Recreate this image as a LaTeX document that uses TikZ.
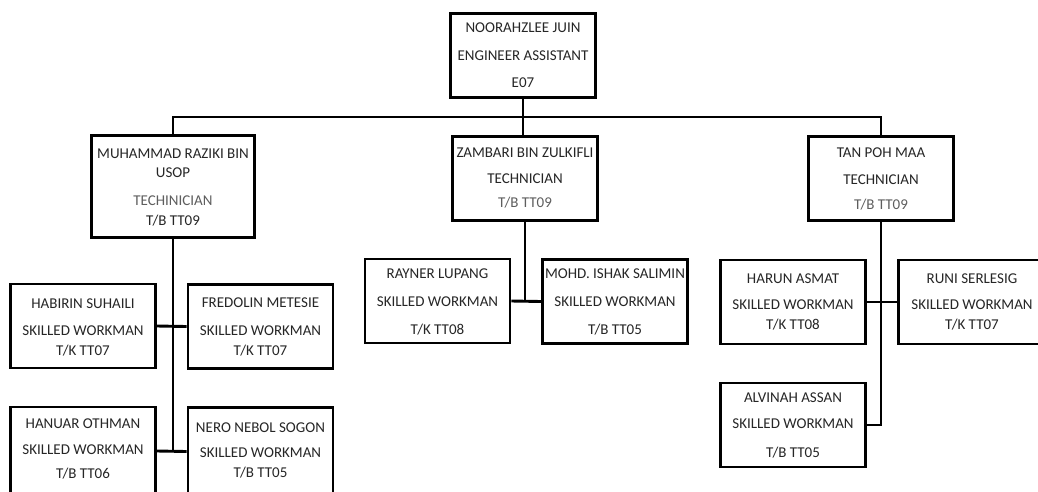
\documentclass[tikz,border=0pt]{standalone}
\usepackage{fontspec}
\setmainfont{Carlito}
\definecolor{ink}{HTML}{262626}
\definecolor{inklight}{HTML}{5E5E5E}
\begin{document}
\begin{tikzpicture}[x=1pt,y=-1pt,
  box/.style={draw=black, line width=2.9pt, inner sep=0pt, fill=white},
  wbox/.style={box, minimum width=145pt, minimum height=84pt},
  wire/.style={line width=2.9pt, draw=black},
  t/.style={anchor=base, inner sep=0pt, font=\fontsize{15}{15}\selectfont, text=ink},
  tl/.style={t, text=inklight}]
\useasboundingbox (0,0) rectangle (1038,491);
\clip (0,0) rectangle (1038,491);
\fill[white] (0,0) rectangle (1038,491);

% boxes
\node[wbox] (top) at (523,55.5) {};
\node[box, minimum width=163pt, minimum height=102pt] (muh) at (173,186.5) {};
\node[wbox] (zam) at (525,178.5) {};
\node[wbox] (tan) at (881,178.5) {};
\node[wbox] (hab) at (83,326) {};
\node[wbox] (fre) at (260.5,326.5) {};
\node[wbox, minimum height=88pt] (han) at (83,451) {};
\node[wbox, minimum height=88pt] (nero) at (260.5,451.5) {};
\node[wbox] (ray) at (437.5,301) {};
\node[wbox] (mohd) at (615,301.5) {};
\node[wbox] (harun) at (793,302) {};
\node[wbox, minimum width=155pt] (runi) at (976,302) {};
\node[wbox] (alv) at (793,425) {};

% connectors
\coordinate (bus) at (0,117);
\draw[wire] (muh.north) -- (muh.north |- bus) -- (tan.north |- bus) -- (tan.north);
\draw[wire] (top.south) -- (top.south |- zam.north);
\draw[wire] (muh.south) -- (muh.south |- han.east);
\draw[wire] (hab.east) -- (fre.west);
\draw[wire] (han.east) -- (nero.west);
\draw[wire] (zam.south) -- (zam.south |- ray.east);
\draw[wire] (ray.east) -- (mohd.west);
\draw[wire] (tan.south) -- (tan.south |- alv.east) -- (alv.east);
\draw[wire] (harun.east) -- (runi.west);

% texts
\node[t] (top1) at (523,32) {NOORAHZLEE JUIN};
\node[t] (top2) at (523,60) {ENGINEER ASSISTANT};
\node[t] (top3) at (523,87) {E07};

\node[t] (muh1) at (173,158) {MUHAMMAD RAZIKI BIN};
\node[t] (muh2) at (173,177) {USOP};
\node[tl] (muh3) at (173,205) {TECHINICIAN};
\node[t] (muh4) at (173,225) {T/B TT09};

\node[t] (zam1) at (525,157) {ZAMBARI BIN ZULKIFLI};
\node[t] (zam2) at (525,183) {TECHNICIAN};
\node[tl] (zam3) at (525,207) {T/B TT09};

\node[t] (tan1) at (881,157) {TAN POH MAA};
\node[t] (tan2) at (881,184) {TECHNICIAN};
\node[tl] (tan3) at (881,209) {T/B TT09};

\node[t] (hab1) at (83,308) {HABIRIN SUHAILI};
\node[t] (hab2) at (83,335) {SKILLED WORKMAN};
\node[t] (hab3) at (83,355) {T/K TT07};

\node[t] (fre1) at (260.5,307) {FREDOLIN METESIE};
\node[t] (fre2) at (260.5,335) {SKILLED WORKMAN};
\node[t] (fre3) at (260.5,355) {T/K TT07};

\node[t] (han1) at (83,428) {HANUAR OTHMAN};
\node[t] (han2) at (83,454) {SKILLED WORKMAN};
\node[t] (han3) at (83,478) {T/B TT06};

\node[t] (nero1) at (260.5,432) {NERO NEBOL SOGON};
\node[t] (nero2) at (260.5,457) {SKILLED WORKMAN};
\node[t] (nero3) at (260.5,477) {T/B TT05};

\node[t] (ray1) at (437.5,278) {RAYNER LUPANG};
\node[t] (ray2) at (437.5,306) {SKILLED WORKMAN};
\node[t] (ray3) at (437.5,334) {T/K TT08};

\node[t] (mohd1) at (615,278) {MOHD. ISHAK SALIMIN};
\node[t] (mohd2) at (615,306) {SKILLED WORKMAN};
\node[t] (mohd3) at (615,334) {T/B TT05};

\node[t] (harun1) at (793,283) {HARUN ASMAT};
\node[t] (harun2) at (793,309) {SKILLED WORKMAN};
\node[t] (harun3) at (793,329) {T/K TT08};

\node[t] (runi1) at (972,283) {RUNI SERLESIG};
\node[t] (runi2) at (972,309) {SKILLED WORKMAN};
\node[t] (runi3) at (972,329) {T/K TT07};

\node[t] (alv1) at (793,402) {ALVINAH ASSAN};
\node[t] (alv2) at (793,428) {SKILLED WORKMAN};
\node[t] (alv3) at (793,457) {T/B TT05};
\end{tikzpicture}
\end{document}
